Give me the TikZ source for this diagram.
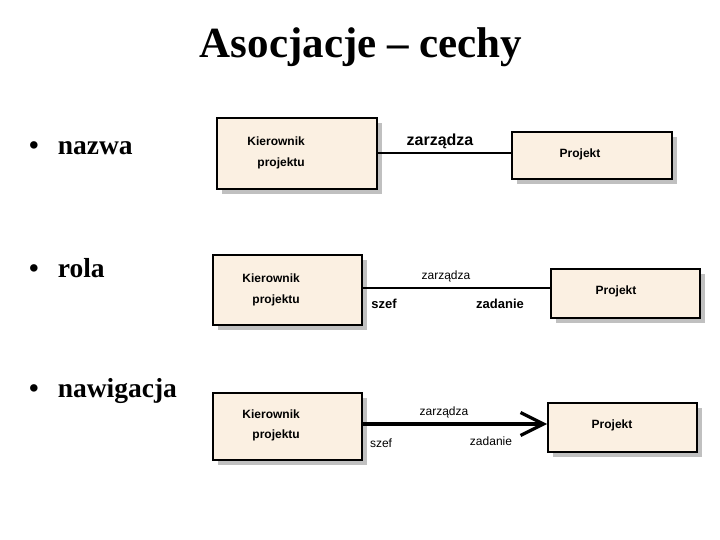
\documentclass[tikz,border=0pt]{standalone}
\usepackage{fontspec}
\setmainfont{Liberation Serif}
\setsansfont{Liberation Sans}
\usetikzlibrary{arrows.meta, shadows}
\definecolor{classfill}{HTML}{FBF0E2}
\definecolor{shadowgray}{HTML}{C0C0C0}

\begin{document}
\begin{tikzpicture}[
    x=1pt, y=-1pt,
    classbox/.style={rectangle, draw=black, line width=1.8pt, fill=classfill,
                     drop shadow={fill=shadowgray, opacity=1, shadow xshift=5pt, shadow yshift=-5pt},
                     inner sep=0pt},
    classtext/.style={inner sep=0pt, font=\sffamily\bfseries\fontsize{12}{14}\selectfont},
    assoc/.style={line width=2pt},
    rolelabel/.style={inner sep=0pt, anchor=base, font=\sffamily\fontsize{12}{14}\selectfont},
    bulletitem/.style={inner sep=0pt, anchor=base west, font=\bfseries\fontsize{27.5}{32}\selectfont}
]
\useasboundingbox (0,0) rectangle (720,540);

% Title
\node[inner sep=0pt, anchor=base, font=\bfseries\fontsize{43}{50}\selectfont] (title) at (361,58) {Asocjacje -- cechy};

% Bullets
\node[bulletitem] (nazwa) at (29,155) {\textbullet\hspace{19pt}nazwa};
\node[bulletitem] (rola) at (29,277) {\textbullet\hspace{19pt}rola};
\node[bulletitem] (nawig) at (29,397) {\textbullet\hspace{19pt}nawigacja};

% Row 1: nazwa
\node[classbox, minimum width=160, minimum height=71] (kier1) at (297,153.5) {};
\node[classbox, minimum width=160, minimum height=47] (proj1) at (592,155.5) {};
\node[classtext, anchor=base east] (kier1a) at (305,146) {Kierownik};
\node[classtext, anchor=base east] (kier1b) at (305,167) {projektu};
\node[classtext, anchor=base] (proj1t) at (580,158) {Projekt};
\draw[assoc] ([yshift=0.5pt]kier1.east) -- ([yshift=0.5pt]kier1.east -| proj1.west);
\node[rolelabel, font=\sffamily\bfseries\fontsize{16}{18}\selectfont] (name1) at (440,146) {zarządza};

% Row 2: rola
\node[classbox, minimum width=149, minimum height=70] (kier2) at (287.5,290) {};
\node[classbox, minimum width=149, minimum height=49] (proj2) at (625.5,293.5) {};
\node[classtext, anchor=base east] (kier2a) at (300,282) {Kierownik};
\node[classtext, anchor=base east] (kier2b) at (300,303) {projektu};
\node[classtext, anchor=base] (proj2t) at (616,294) {Projekt};
\draw[assoc] ([yshift=2pt]kier2.east) -- ([yshift=2pt]kier2.east -| proj2.west);
\node[rolelabel] (name2) at (446,279) {zarządza};
\node[rolelabel, font=\sffamily\bfseries\fontsize{13}{15}\selectfont] (szef2) at (384,308) {szef};
\node[rolelabel, font=\sffamily\bfseries\fontsize{13}{15}\selectfont] (zad2) at (500,308) {zadanie};

% Row 3: nawigacja
\node[classbox, minimum width=149, minimum height=67] (kier3) at (287.5,426.5) {};
\node[classbox, minimum width=149, minimum height=49] (proj3) at (622.5,427.5) {};
\node[classtext, anchor=base east] (kier3a) at (300,418) {Kierownik};
\node[classtext, anchor=base east] (kier3b) at (300,438) {projektu};
\node[classtext, anchor=base] (proj3t) at (612,428) {Projekt};
\draw[line width=3.2pt, -{Straight Barb[length=23pt, width=23pt]}]
    ([yshift=2.5pt]kier3.east) -- ([yshift=2.5pt]kier3.east -| proj3.west);
\node[rolelabel] (name3) at (444,415) {zarządza};
\node[rolelabel] (szef3) at (381,447) {szef};
\node[rolelabel] (zad3) at (491,445) {zadanie};

\end{tikzpicture}
\end{document}
